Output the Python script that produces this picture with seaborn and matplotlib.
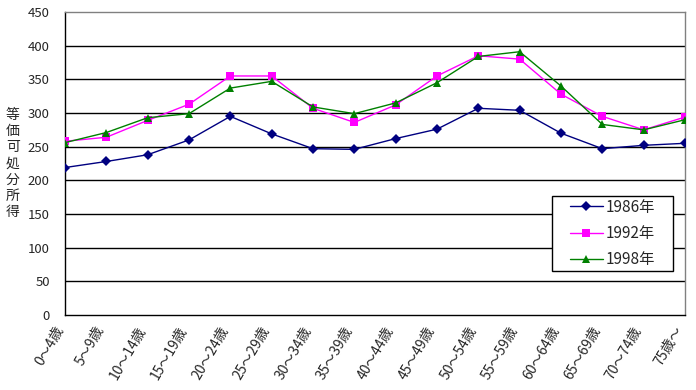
import pandas as pd
import seaborn as sns
import matplotlib.pyplot as plt
from matplotlib.patches import Rectangle
from matplotlib.transforms import ScaledTranslation

# 年齢階級
ages = ["0～4歳", "5～9歳", "10～14歳", "15～19歳", "20～24歳", "25～29歳",
        "30～34歳", "35～39歳", "40～44歳", "45～49歳", "50～54歳", "55～59歳",
        "60～64歳", "65～69歳", "70～74歳", "75歳～"]

# 等価可処分所得
y1986 = [219, 228, 238, 260, 295, 269, 247, 246, 262, 276, 307, 304, 270, 247, 252, 255]
y1992 = [258, 264, 289, 313, 355, 355, 307, 286, 312, 355, 385, 380, 328, 295, 275, 294]
y1998 = [256, 271, 293, 299, 337, 347, 309, 299, 315, 345, 384, 391, 340, 283, 275, 290]

years = ["1986年", "1992年", "1998年"]

df = pd.DataFrame({
    "age": ages * 3,
    "value": y1986 + y1992 + y1998,
    "year": [y for y in years for _ in ages],
})

sns.set_style("white")
plt.rcParams["font.family"] = ["Noto Sans CJK JP", "DejaVu Sans"]

fig = plt.figure(figsize=(6.96, 3.9), dpi=100)
ax = fig.add_axes([65 / 696, 75 / 390, 620 / 696, 303 / 390])

palette = {"1986年": "#000080", "1992年": "#FF00FF", "1998年": "#008000"}
markers = {"1986年": "D", "1992年": "s", "1998年": "^"}

sns.lineplot(data=df, x="age", y="value", hue="year", style="year",
             palette=palette, markers=markers, dashes=False, linewidth=1,
             markersize=6, markeredgewidth=0, ax=ax, zorder=3)

# マーカーの大きさを系列ごとに調整
for line in ax.get_lines():
    if line.get_marker() == "D":
        line.set_markersize(5)

ax.set_xlim(0, len(ages) - 1)
ax.set_ylim(0, 450)
ax.set_yticks(range(0, 451, 50))
ax.set_xticks(range(len(ages)))
ax.set_xticklabels(ages, rotation=60, ha="right", va="center",
                   rotation_mode="anchor", fontsize=10)
ax.tick_params(axis="x", direction="out", length=3, width=1, color="black", pad=6)
ax.tick_params(axis="y", length=0, pad=11, labelsize=9.5)

# ラベルを少し左へずらす
shift = ScaledTranslation(-5 / 100, 0, fig.dpi_scale_trans)
for lab in ax.get_xticklabels():
    lab.set_transform(lab.get_transform() + shift)

for v in range(50, 450, 50):
    ax.axhline(v, color="black", linewidth=1, zorder=1)

ax.spines["left"].set_color("black")
ax.spines["bottom"].set_color("black")
ax.spines["top"].set_color("#808080")
ax.spines["right"].set_color("#808080")
for s in ax.spines.values():
    s.set_linewidth(1)
    s.set_visible(True)

ax.set_xlabel("")
ax.set_ylabel("")
fig.text(12.7 / 696, 1 - 163.5 / 390, "\n".join("等価可処分所得"),
         ha="center", va="center", fontsize=10, linespacing=1.2)

# 凡例の枠
box = (0.785, 0.145, 0.195, 0.248)
ax.add_patch(Rectangle(box[:2], box[2], box[3], transform=ax.transAxes,
                       facecolor="white", edgecolor="black", linewidth=1,
                       zorder=4))
leg = ax.legend(title=None, loc="center", bbox_to_anchor=box,
                frameon=False, fontsize=11,
                handlelength=2.2, handletextpad=0.15, labelspacing=0.6,
                borderpad=0.3)
leg.set_zorder(5)

fig.savefig("out.png", dpi=100)
